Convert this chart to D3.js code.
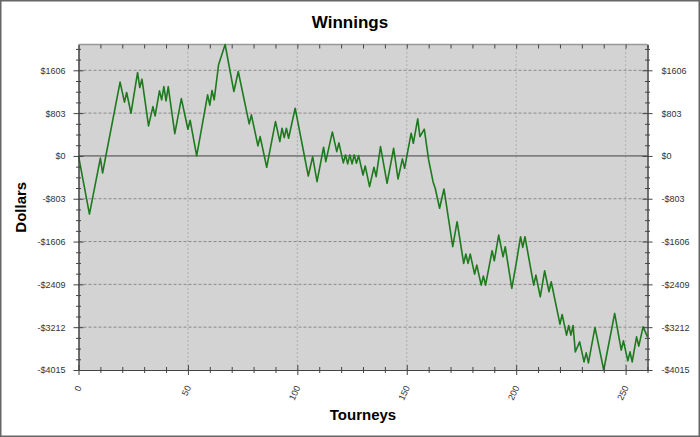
<!DOCTYPE html>
<html>
<head>
<meta charset="utf-8">
<script src="https://cdn.jsdelivr.net/npm/d3@7"></script>
<style>
body { margin: 0; background: #fff; }
svg { display: block; font-family: 'Liberation Sans', Arial, sans-serif; }
</style>
</head>
<body>
<svg id="winnings"></svg>
<script>
//turning points of the running total
var tourneys = [0, 5, 10, 11, 19, 21, 22, 24, 27, 28, 29, 32, 34, 35, 37, 38, 39, 40, 41, 44,
    47, 50, 51, 54, 59, 60, 61, 62, 64, 67, 71, 73, 78, 79, 82, 83, 86, 90, 92, 93,
    94, 95, 96, 99, 105, 107, 109, 112, 113, 116, 118, 119, 121, 122, 123, 124, 125, 126, 127, 128,
    130, 131, 133, 135, 136, 138, 141, 144, 146, 148, 149, 152, 153, 155, 156, 158, 160, 162, 163, 165,
    167, 171, 173, 176, 177, 178, 179, 181, 182, 184, 185, 186, 189, 190, 192, 194, 195, 198, 200, 202,
    203, 204, 208, 209, 211, 213, 215, 216, 220, 221, 223, 224, 225, 226, 227, 229, 231, 232, 233, 236,
    240, 245, 248, 249, 251, 252, 253, 255, 256, 258, 260];
var winnings = [0, -1090, -40, -320, 1384, 1008, 1190, 801, 1565, 1283, 1440, 563, 926, 751, 1221, 1052, 1301, 1033, 1301, 419,
    1076, 501, 670, 0, 1146, 952, 1227, 1052, 1709, 2090, 1208, 1583, 601, 770, 188, 363, -213, 645, 269, 520,
    344, 520, 332, 895, -376, -13, -482, 163, -107, 450, 81, 245, -130, 19, -150, 19, -150, 19, -138, 6,
    -357, -188, -576, -213, -388, 175, -513, 144, -432, -56, -232, 426, 238, 695, 363, 501, -75, -482, -607, -982,
    -620, -1703, -1234, -2015, -1840, -2015, -1840, -2216, -2047, -2423, -2254, -2423, -1778, -1966, -1484, -1891, -1703, -2485, -2015, -1515,
    -1715, -1515, -2423, -2235, -2642, -2154, -2548, -2360, -3155, -2973, -3362, -3180, -3362, -3180, -3675, -3487, -3863, -3694, -3882, -3217,
    -4015, -2954, -3643, -3468, -3844, -3675, -3863, -3393, -3568, -3205, -3393];

var xTicks = [0, 50, 100, 150, 200, 250];
var xMax = 260;
var yStep = 803;

function winningsChart() {
    var svg = d3.select('#winnings')
        .attr('width', 700)
        .attr('height', 437);

    var margin = {top: 44.5, right: 52.5, bottom: 67, left: 78.5},
        width = 700 - margin.left - margin.right,
        height = 437 - margin.top - margin.bottom;

    //outer frame
    svg.append('rect')
        .attr('x', 0.75).attr('y', 0.75)
        .attr('width', 698.5).attr('height', 435.5)
        .attr('fill', '#fff')
        .attr('stroke', '#666')
        .attr('stroke-width', 1.5);

    var canvas = svg.append('g')
        .attr('transform', 'translate(' + margin.left + ',' + margin.top + ')');

    var yMin = d3.min(winnings), yMax = d3.max(winnings);
    var x = d3.scaleLinear().domain([0, xMax]).range([0, width]);
    var y = d3.scaleLinear().domain([yMin, yMax]).range([height, 0]);

    var yMajor = d3.range(yMin, yMax + 1, yStep);
    var yMinor = d3.range(yMin, yMax, yStep / 4).filter(function(v, i) { return i % 4 !== 0; });
    var xMinor = d3.range(0, xMax + 1, 10).filter(function(v) { return v % 50 !== 0; });

    var dollars = function(v) { return (v < 0 ? '-' : '') + '$' + Math.abs(v); };

    //plot background
    canvas.append('rect')
        .attr('width', width)
        .attr('height', height)
        .attr('fill', '#d3d3d3');

    //grid
    canvas.append('g').selectAll('line')
        .data(yMajor.filter(function(v) { return v !== 0 && v !== yMin; }))
        .enter().append('line')
            .attr('x1', 0).attr('x2', width)
            .attr('y1', d => y(d)).attr('y2', d => y(d))
            .attr('stroke', '#8a8a8a')
            .attr('stroke-dasharray', '3,2');

    canvas.append('g').selectAll('line')
        .data(xTicks.slice(1))
        .enter().append('line')
            .attr('x1', d => x(d)).attr('x2', d => x(d))
            .attr('y1', 0).attr('y2', height)
            .attr('stroke', '#8a8a8a')
            .attr('stroke-dasharray', '1,3');

    //zero line
    canvas.append('line')
        .attr('x1', 0).attr('x2', width)
        .attr('y1', y(0)).attr('y2', y(0))
        .attr('stroke', '#444');

    //top edge
    canvas.append('line')
        .attr('x1', 0).attr('x2', width)
        .attr('y1', 0).attr('y2', 0)
        .attr('stroke', '#999')
        .attr('stroke-width', 1.5);

    //winnings line
    var line = d3.line()
        .x((d, i) => x(tourneys[i]))
        .y(d => y(d));

    canvas.append('path')
        .datum(winnings)
        .attr('fill', 'none')
        .attr('stroke', '#1d7a1d')
        .attr('stroke-width', 1.6)
        .attr('stroke-linejoin', 'round')
        .attr('d', line);

    //axes: ticks cross the axis line
    function crossTicks(g, len, vertical) {
        g.selectAll('.tick line')
            .attr(vertical ? 'x1' : 'y1', -len)
            .attr(vertical ? 'x2' : 'y2', len)
            .attr('stroke', '#444');
        g.select('.domain').attr('stroke', '#444');
    }

    var left = canvas.append('g')
        .call(d3.axisLeft(y).tickValues(yMajor).tickFormat(dollars).tickSizeOuter(0).tickPadding(7));
    crossTicks(left, 5, true);
    left.selectAll('text').attr('fill', '#333').style('font-size', '9px').attr('font-family', null);

    var leftMinor = canvas.append('g')
        .call(d3.axisLeft(y).tickValues(yMinor).tickFormat('').tickSizeOuter(0));
    crossTicks(leftMinor, 2.5, true);

    var right = canvas.append('g')
        .attr('transform', 'translate(' + width + ',0)')
        .call(d3.axisRight(y).tickValues(yMajor).tickFormat(dollars).tickSizeOuter(0).tickPadding(8));
    crossTicks(right, 5, true);
    right.selectAll('text').attr('fill', '#333').style('font-size', '9px').attr('font-family', null);

    var rightMinor = canvas.append('g')
        .attr('transform', 'translate(' + width + ',0)')
        .call(d3.axisRight(y).tickValues(yMinor).tickFormat('').tickSizeOuter(0));
    crossTicks(rightMinor, 2.5, true);

    var bottom = canvas.append('g')
        .attr('transform', 'translate(0,' + height + ')')
        .call(d3.axisBottom(x).tickValues(xTicks).tickSizeOuter(0));
    crossTicks(bottom, 5, false);
    bottom.selectAll('text')
        .attr('fill', '#333')
        .attr('font-family', null)
        .style('font-size', '9px')
        .attr('text-anchor', 'end')
        .attr('y', 0).attr('dy', '0.35em')
        .attr('transform', 'translate(0,16) rotate(-65)');

    var bottomMinor = canvas.append('g')
        .attr('transform', 'translate(0,' + height + ')')
        .call(d3.axisBottom(x).tickValues(xMinor).tickFormat('').tickSizeOuter(0));
    crossTicks(bottomMinor, 3, false);

    //top ticks point inward
    var top = canvas.append('g')
        .call(d3.axisBottom(x).tickValues(xMinor.concat(xTicks.slice(1))).tickFormat('').tickSize(4).tickSizeOuter(0));
    top.select('.domain').remove();
    top.selectAll('.tick line').attr('stroke', '#444');

    //titles
    svg.append('text')
        .attr('x', 350).attr('y', 28)
        .attr('text-anchor', 'middle')
        .style('font-size', '17px').style('font-weight', 'bold')
        .text('Winnings');

    svg.append('text')
        .attr('x', margin.left + width / 2).attr('y', 420)
        .attr('text-anchor', 'middle')
        .style('font-size', '15px').style('font-weight', 'bold')
        .text('Tourneys');

    svg.append('text')
        .attr('transform', 'translate(26,' + (margin.top + height / 2) + ') rotate(-90)')
        .attr('text-anchor', 'middle')
        .style('font-size', '15px').style('font-weight', 'bold')
        .text('Dollars');
}

winningsChart();
</script>
</body>
</html>
